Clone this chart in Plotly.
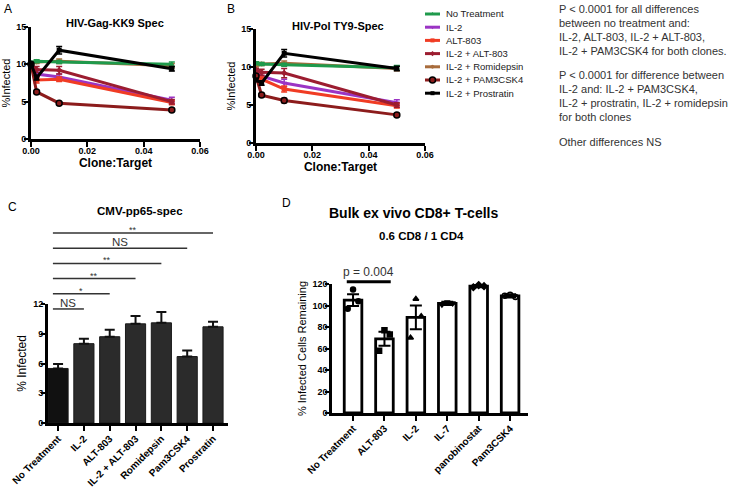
import plotly.graph_objects as go

W, H = 732, 492
FONT = "Liberation Sans, Arial, Helvetica, sans-serif"


def px(x):
    return x / W


def py(y):
    return 1 - y / H


# ---------------- Panels A & B data ----------------
clone_target = [0, 0.002, 0.01, 0.05]
treatments = ["No Treatment", "IL-2", "ALT-803", "IL-2 + ALT-803",
              "IL-2 + Romidepsin", "IL-2 + PAM3CSK4", "IL-2 + Prostratin"]
gag_infected = [
    [10.2, 10.4, 10.3, 10.0],
    [10.0, 8.7, 8.3, 5.2],
    [10.0, 7.9, 8.0, 4.9],
    [10.0, 9.3, 9.2, 5.0],
    [10.1, 10.3, 10.4, 9.8],
    [10.0, 6.3, 4.8, 3.9],
    [10.0, 8.2, 11.9, 9.4],
]
gag_err = [
    [0.2, 0.2, 0.2, 0.3],
    [0.2, 0.4, 0.4, 0.4],
    [0.2, 0.4, 0.3, 0.3],
    [0.2, 0.4, 0.5, 0.3],
    [0.2, 0.2, 0.3, 0.3],
    [0.2, 0.2, 0.2, 0.2],
    [0.2, 0.3, 0.5, 0.3],
]
pol_infected = [
    [10.5, 10.4, 10.3, 9.9],
    [9.5, 8.8, 7.9, 5.3],
    [9.2, 8.4, 7.1, 4.9],
    [9.6, 9.3, 9.2, 5.0],
    [10.2, 10.4, 10.5, 9.8],
    [8.8, 6.3, 5.6, 3.7],
    [8.3, 7.9, 11.8, 9.8],
]
pol_err = [
    [0.2, 0.2, 0.2, 0.3],
    [0.2, 0.4, 0.5, 0.4],
    [0.2, 0.3, 0.4, 0.3],
    [0.2, 0.4, 0.6, 0.3],
    [0.2, 0.2, 0.3, 0.3],
    [0.2, 0.2, 0.3, 0.2],
    [0.2, 0.3, 0.5, 0.3],
]

# ---------------- Panel C data ----------------
cmv_categories = ["No Treatment", "IL-2", "ALT-803", "IL-2 + ALT-803",
                  "Romidepsin", "Pam3CSK4", "Prostratin"]
cmv_infected = [5.5, 8.0, 8.7, 10.0, 10.1, 6.7, 9.7]
cmv_err = [0.45, 0.5, 0.7, 0.8, 1.1, 0.6, 0.5]
cmv_sig_end = [1, 2, 3, 4, 5, 6]
cmv_sig_label = ["NS", "*", "**", "**", "NS", "**"]

# ---------------- Panel D data ----------------
bulk_categories = ["No Treatment", "ALT-803", "IL-2", "IL-7",
                   "panobinostat", "Pam3CSK4"]
bulk_mean = [105, 69, 89, 102, 118, 109]
bulk_err = [5.5, 6.5, 11, 1.5, 1.0, 1.5]
bulk_points = [
    [115, 104, 97],
    [77, 73, 58],
    [106, 90, 70],
    [103, 102, 101],
    [119, 118, 117],
    [110, 108, 109],
]

# ---------------- styles ----------------
colors = ["#1f9a4c", "#9b34c4", "#f03c24", "#9c1d30", "#a86c3c", "#8c1c1c", "#000000"]
symbols = ["triangle-up", "triangle-down", "square", "diamond", "hexagon", "circle", "square"]
point_symbols = ["circle", "square", "triangle-up", "triangle-down", "diamond", "circle-open"]
jitter = [0.0, 0.17, -0.17]
draw_order = [4, 0, 1, 2, 3, 5, 6]

fig = go.Figure()


def add_lines(xa, ya, values, errs):
    for i in draw_order:
        is_pam = i == 5
        fig.add_trace(go.Scatter(
            x=clone_target, y=values[i], xaxis=xa, yaxis=ya,
            mode="lines+markers", showlegend=False, cliponaxis=False,
            line=dict(color=colors[i], width=3),
            marker=dict(symbol=symbols[i], size=6 if is_pam else 5,
                        color=colors[i],
                        line=dict(color="black" if is_pam else colors[i], width=1.5 if is_pam else 0)),
            error_y=dict(type="data", array=errs[i], color=colors[i], thickness=1.5, width=3),
        ))


add_lines("x", "y", gag_infected, gag_err)
add_lines("x2", "y2", pol_infected, pol_err)

# Panel C bars
fig.add_trace(go.Bar(
    x=cmv_categories, y=cmv_infected, xaxis="x3", yaxis="y3", showlegend=False,
    width=0.78,
    marker=dict(color=["#111111"] + ["#2b2b2b"] * (len(cmv_categories) - 1),
                line=dict(color="#1a1a1a", width=1)),
    error_y=dict(type="data", symmetric=False, array=cmv_err,
                 arrayminus=[0] * len(cmv_err), color="#111111", thickness=2, width=5),
))

# Panel D bars + points
bulk_idx = list(range(len(bulk_categories)))
fig.add_trace(go.Bar(
    x=bulk_idx, y=bulk_mean, xaxis="x4", yaxis="y4", showlegend=False,
    width=0.56,
    marker=dict(color="white", line=dict(color="black", width=2.8)),
    error_y=dict(type="data", array=bulk_err, color="black", thickness=2, width=6),
))
for i, pts in enumerate(bulk_points):
    fig.add_trace(go.Scatter(
        x=[i + j for j in jitter[:len(pts)]], y=pts, xaxis="x4", yaxis="y4",
        mode="markers", showlegend=False, cliponaxis=False,
        marker=dict(symbol=point_symbols[i], size=5, color="black",
                    line=dict(color="black", width=1.5)),
    ))

# Legend (drawn on its own hidden axis)
leg_row0, leg_step = 14, 13.2
for i, name in enumerate(treatments):
    yy = leg_row0 + leg_step * i
    fig.add_trace(go.Scatter(
        x=[425, 440], y=[yy, yy], xaxis="x5", yaxis="y5", mode="lines",
        line=dict(color=colors[i], width=3), showlegend=False, hoverinfo="skip"))
    is_pam = i == 5
    fig.add_trace(go.Scatter(
        x=[432.5], y=[yy], xaxis="x5", yaxis="y5", mode="markers", showlegend=False,
        marker=dict(symbol=symbols[i], size=6 if is_pam else 4, color=colors[i],
                    line=dict(color="black" if is_pam else colors[i], width=1.5 if is_pam else 0)),
        hoverinfo="skip"))

tick_font = dict(family=FONT, size=9, color="black", weight="bold")
axis_common = dict(showline=True, linecolor="black", showgrid=False, zeroline=False,
                   ticks="outside", tickcolor="black", tickfont=tick_font, fixedrange=True,
                   automargin=False, ticklabelstandoff=-4)
cat_font = dict(family=FONT, size=10, color="black", weight="bold")

layout = dict(
    width=W, height=H, margin=dict(l=0, r=0, t=0, b=0, autoexpand=False),
    paper_bgcolor="white", plot_bgcolor="white",
    font=dict(family=FONT, color="black"),
    bargap=0.2,
    xaxis=dict(domain=[px(31), px(200)], range=[0, 0.06], tickvals=[0, 0.02, 0.04, 0.06],
               tickformat=".2f", anchor="y", linewidth=3, ticklen=5, tickwidth=2,
               title=dict(text="<b>Clone:Target</b>", font=dict(size=12), standoff=4),
               **axis_common),
    yaxis=dict(domain=[py(139), py(27)], range=[0, 15], tickvals=[0, 5, 10, 15],
               anchor="x", linewidth=3, ticklen=4, tickwidth=2,
               title=dict(text="%Infected", font=dict(size=11), standoff=4),
               **axis_common),
    xaxis2=dict(domain=[px(256), px(425)], range=[0, 0.06], tickvals=[0, 0.02, 0.04, 0.06],
                tickformat=".2f", anchor="y2", linewidth=3, ticklen=5, tickwidth=2,
                title=dict(text="<b>Clone:Target</b>", font=dict(size=12), standoff=4),
                **axis_common),
    yaxis2=dict(domain=[py(143), py(29)], range=[0, 15], tickvals=[0, 5, 10, 15],
                anchor="x2", linewidth=3, ticklen=4, tickwidth=2,
                title=dict(text="%Infected", font=dict(size=11), standoff=4),
                **axis_common),
    xaxis3=dict(domain=[px(48), px(228)], range=[-0.39, 6.58], type="category",
                anchor="y3", linewidth=3, ticklen=5, tickwidth=2, tickangle=-45,
                **{**axis_common, "tickfont": cat_font, "ticklabelstandoff": -2}),
    yaxis3=dict(domain=[py(423), py(304)], range=[0, 12], tickvals=[0, 3, 6, 9, 12],
                anchor="x3", linewidth=3, ticklen=4, tickwidth=2,
                title=dict(text="% Infected", font=dict(size=12), standoff=4),
                **axis_common),
    xaxis4=dict(domain=[px(332), px(528)], range=[-0.67, 5.57], tickvals=bulk_idx,
                ticktext=bulk_categories, anchor="y4", linewidth=2.5, ticklen=5,
                tickwidth=2, tickangle=-45,
                **{**axis_common, "tickfont": cat_font, "ticklabelstandoff": -2}),
    yaxis4=dict(domain=[py(413), py(284)], range=[0, 120], tickvals=list(range(0, 121, 20)),
                anchor="x4", linewidth=2.5, ticklen=4, tickwidth=2,
                title=dict(text="% Infected Cells Remaining", font=dict(size=11), standoff=4),
                **axis_common),
    xaxis5=dict(domain=[px(420), px(560)], range=[420, 560], visible=False, fixedrange=True,
                anchor="y5"),
    yaxis5=dict(domain=[py(100), py(5)], range=[100, 5], visible=False, fixedrange=True,
                anchor="x5"),
)
fig.update_layout(**layout)

annotations = []
shapes = []


def paper_text(x, y, text, size, bold=False, xanchor="center", color="black"):
    annotations.append(dict(
        x=px(x), y=py(y), xref="paper", yref="paper", text=f"<b>{text}</b>" if bold else text,
        showarrow=False, xanchor=xanchor, yanchor="middle",
        font=dict(family=FONT, size=size, color=color)))


# panel letters and titles
paper_text(8, 9, "A", 12)
paper_text(231, 9, "B", 12)
paper_text(12, 207, "C", 12)
paper_text(286, 203, "D", 12)
paper_text(115, 23, "HIV-Gag-KK9 Spec", 11, bold=True)
paper_text(338, 26, "HIV-Pol TY9-Spec", 11, bold=True)
paper_text(140, 211, "CMV-pp65-spec", 11.5, bold=True)
paper_text(413, 213, "Bulk ex vivo CD8+ T-cells", 14, bold=True)
paper_text(421, 236, "0.6 CD8 / 1 CD4", 11.5, bold=True)

# legend labels
for i, name in enumerate(treatments):
    annotations.append(dict(
        x=444, y=leg_row0 + leg_step * i, xref="x5", yref="y5", text=name, showarrow=False,
        xanchor="left", yanchor="middle", font=dict(family=FONT, size=9.5, color="#222")))

# statistics note
note_lines = [
    (9, "P < 0.0001 for all differences"),
    (23, "between no treatment and:"),
    (37, "IL-2, ALT-803, IL-2 + ALT-803,"),
    (51, "IL-2 + PAM3CSK4 for both clones."),
    (75, "P < 0.0001 for difference between"),
    (89, "IL-2 and: IL-2 + PAM3CSK4,"),
    (103, "IL-2 + prostratin, IL-2 + romidepsin"),
    (117, "for both clones"),
    (142, "Other differences NS"),
]
for yy, txt in note_lines:
    paper_text(557, yy, txt, 11, xanchor="left", color="#333")

# Panel C significance brackets
sig_start, sig_base, sig_step = -0.2, 11.5, 1.53
for k, (end, lab) in enumerate(zip(cmv_sig_end, cmv_sig_label)):
    yv = sig_base + sig_step * k
    shapes.append(dict(type="line", xref="x3", yref="y3 domain", x0=sig_start, x1=end,
                       y0=yv / 12, y1=yv / 12, line=dict(color="#333", width=1.5)))
    annotations.append(dict(
        x=(sig_start + end) / 2, y=yv / 12, xref="x3", yref="y3 domain", text=lab,
        showarrow=False, xanchor="center", yanchor="bottom",
        yshift=-2 if lab == "NS" else -4,
        font=dict(family=FONT, size=11.5 if lab == "NS" else 9, color="#333")))

# Panel D p-value bracket
p_y = 122
shapes.append(dict(type="line", xref="x4", yref="y4 domain", x0=-0.2, x1=1.2,
                   y0=p_y / 120, y1=p_y / 120, line=dict(color="black", width=3)))
annotations.append(dict(x=0.5, y=p_y / 120, xref="x4", yref="y4 domain", text="p = 0.004",
                        showarrow=False, xanchor="center", yanchor="bottom", yshift=1,
                        font=dict(family=FONT, size=12, color="#333")))

fig.update_layout(annotations=annotations, shapes=shapes)
fig.write_html("out.html", config={"displayModeBar": False},
               post_script="document.body.style.margin='0px';document.body.style.overflow='hidden';")
